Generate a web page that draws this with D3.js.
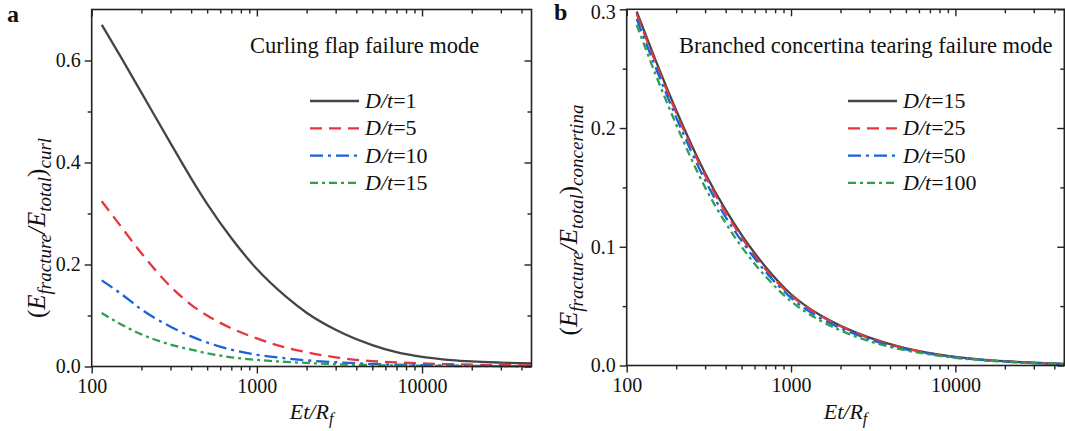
<!DOCTYPE html>
<html>
<head>
<meta charset="utf-8">
<script src="https://cdnjs.cloudflare.com/ajax/libs/d3/7.8.5/d3.min.js"></script>
<style>
  body { margin: 0; background: #fff; }
  svg text { font-family: "Liberation Serif", "Times New Roman", serif; fill: #111; }
</style>
</head>
<body>
<script>

// x values (Et/Rf) where the curves were read
var xVals = [115, 150, 200, 300, 400, 500, 700, 1000, 1500, 2000, 3000, 5000, 7000, 10000, 15000, 20000, 30000, 46000];

// panel a - curling flap
var curlD1  = [0.670, 0.607, 0.537, 0.438, 0.369, 0.319, 0.252, 0.191, 0.137, 0.1055, 0.072, 0.042, 0.028, 0.0188, 0.0126, 0.0099, 0.0076, 0.0059];
var curlD5  = [0.324, 0.275, 0.222, 0.157, 0.121, 0.100, 0.075, 0.055, 0.037, 0.028, 0.018, 0.0105, 0.008, 0.006, 0.0045, 0.0036, 0.0027, 0.002];
var curlD10 = [0.169, 0.143, 0.112, 0.078, 0.059, 0.047, 0.033, 0.023, 0.016, 0.012, 0.0085, 0.005, 0.0036, 0.0026, 0.0018, 0.0014, 0.001, 0.0008];
var curlD15 = [0.105, 0.083, 0.063, 0.043, 0.033, 0.026, 0.018, 0.013, 0.009, 0.007, 0.0045, 0.0027, 0.002, 0.0014, 0.001, 0.0008, 0.0006, 0.0005];

// panel b - branched concertina tearing
var concD15  = [0.298, 0.257, 0.215, 0.162, 0.131, 0.110, 0.083, 0.060, 0.0425, 0.0335, 0.0235, 0.0145, 0.0105, 0.0073, 0.0048, 0.0036, 0.0023, 0.0013];
var concD25  = [0.296, 0.255, 0.213, 0.160, 0.129, 0.108, 0.081, 0.059, 0.042, 0.033, 0.023, 0.0142, 0.0103, 0.0071, 0.0047, 0.0035, 0.0022, 0.0013];
var concD50  = [0.292, 0.251, 0.209, 0.156, 0.125, 0.105, 0.079, 0.057, 0.040, 0.0315, 0.022, 0.0136, 0.0099, 0.0068, 0.0045, 0.0034, 0.0021, 0.0012];
var concD100 = [0.287, 0.245, 0.203, 0.150, 0.120, 0.100, 0.075, 0.054, 0.038, 0.0295, 0.0205, 0.0127, 0.0093, 0.0064, 0.0043, 0.0032, 0.0020, 0.0011];

var xDomain = [100, 46000];
var xMajor = [100, 1000, 10000];
var xMinor = [200, 300, 400, 500, 600, 700, 800, 900, 2000, 3000, 4000, 5000, 6000, 7000, 8000, 9000, 20000, 30000, 40000];

var yTicksA = [0, 0.2, 0.4, 0.6];
var yMinorA = [0.1, 0.3, 0.5];
var yTicksB = [0, 0.1, 0.2, 0.3];
var yMinorB = [0.05, 0.15, 0.25];

var labelsA = ["1", "5", "10", "15"];
var labelsB = ["15", "25", "50", "100"];

var colors = ["#454545", "#e8363c", "#1a62d8", "#2e9e52"];
var dashes = [null, "12,7", "13,5,3,5", "8,4,3,4"];

var svg = d3.select("body").append("svg")
    .attr("width", 1065)
    .attr("height", 431);

function drawPanel(opt) {
    var x = d3.scaleLog().domain(xDomain).range([opt.left, opt.right]);
    var y = d3.scaleLinear().domain(opt.yDomain).range([opt.bottom, opt.top]);
    var g = svg.append("g");

    // curves
    var line = d3.line()
        .x(function(d) { return x(d[0]); })
        .y(function(d) { return y(d[1]); })
        .curve(d3.curveMonotoneX);

    opt.series.forEach(function(s, i) {
        var pts = xVals.map(function(v, k) { return [v, s[k]]; });
        g.append("path")
            .attr("d", line(pts))
            .attr("fill", "none")
            .attr("stroke", colors[i])
            .attr("stroke-width", 2.3)
            .attr("stroke-dasharray", dashes[i]);
    });

    // bottom axis, ticks outward
    g.append("g").attr("transform", "translate(0," + opt.bottom + ")")
        .call(d3.axisBottom(x).tickValues(xMajor).tickFormat(d3.format("d")).tickSize(7).tickSizeOuter(0).tickPadding(5));
    g.append("g").attr("transform", "translate(0," + opt.bottom + ")")
        .call(d3.axisBottom(x).tickValues(xMinor).tickFormat("").tickSize(4).tickSizeOuter(0));

    // top axis, ticks inward
    g.append("g").attr("transform", "translate(0," + opt.top + ")")
        .call(d3.axisBottom(x).tickValues(xMajor).tickFormat("").tickSize(7).tickSizeOuter(0));
    g.append("g").attr("transform", "translate(0," + opt.top + ")")
        .call(d3.axisBottom(x).tickValues(xMinor).tickFormat("").tickSize(4).tickSizeOuter(0));

    // left axis, ticks outward
    var left = g.append("g").attr("transform", "translate(" + opt.left + ",0)")
        .call(d3.axisLeft(y).tickValues(opt.yTicks).tickFormat(d3.format(".1f")).tickSize(7).tickSizeOuter(0).tickPadding(4));
    g.append("g").attr("transform", "translate(" + opt.left + ",0)")
        .call(d3.axisLeft(y).tickValues(opt.yMinor).tickFormat("").tickSize(4).tickSizeOuter(0));

    // right axis, ticks inward
    g.append("g").attr("transform", "translate(" + opt.right + ",0)")
        .call(d3.axisLeft(y).tickValues(opt.yTicks).tickFormat("").tickSize(7).tickSizeOuter(0));
    g.append("g").attr("transform", "translate(" + opt.right + ",0)")
        .call(d3.axisLeft(y).tickValues(opt.yMinor).tickFormat("").tickSize(4).tickSizeOuter(0));

    g.selectAll(".domain").remove();
    g.selectAll(".tick line").attr("stroke", "#222").attr("stroke-width", 1.4);
    g.selectAll(".tick text").attr("font-size", 20).attr("fill", "#111")
        .attr("font-family", "Liberation Serif");
    // keep the top label inside the picture
    left.selectAll(".tick text").filter(function(d) { return y(d) < 15; }).attr("dy", "0.48em");

    // frame
    g.append("rect")
        .attr("x", opt.left).attr("y", opt.top)
        .attr("width", opt.right - opt.left).attr("height", opt.bottom - opt.top)
        .attr("fill", "none").attr("stroke", "#222").attr("stroke-width", 1.6);

    // panel letter
    g.append("text").attr("x", opt.letterX).attr("y", opt.letterY)
        .attr("font-size", 24).attr("font-weight", "bold").text(opt.letter);

    // mode title
    g.append("text").attr("x", opt.titleX).attr("y", 53)
        .attr("font-size", 22.5).text(opt.title);

    // legend
    opt.legend.forEach(function(lab, i) {
        var ly = 101 + i * 27.3;
        g.append("line")
            .attr("x1", opt.legX).attr("x2", opt.legX + 49)
            .attr("y1", ly).attr("y2", ly)
            .attr("stroke", colors[i]).attr("stroke-width", 2.3)
            .attr("stroke-dasharray", dashes[i]);
        var t = g.append("text").attr("x", opt.legX + 55).attr("y", ly + 7).attr("font-size", 22);
        t.append("tspan").attr("font-style", "italic").text("D/t");
        t.append("tspan").text("=" + lab);
    });

    // x axis title
    var xt = g.append("text").attr("x", (opt.left + opt.right) / 2).attr("y", 419)
        .attr("text-anchor", "middle").attr("font-size", 22).attr("font-style", "italic");
    xt.append("tspan").text("Et/R");
    xt.append("tspan").attr("font-size", 16).attr("dy", 5).text("f");

    // y axis title
    var yt = g.append("text")
        .attr("transform", "translate(" + opt.yTitleX + "," + opt.yTitleY + ") rotate(-90)")
        .attr("text-anchor", "middle").attr("font-size", 25);
    yt.append("tspan").text("(");
    yt.append("tspan").attr("font-style", "italic").text("E");
    yt.append("tspan").attr("font-style", "italic").attr("font-size", 19).attr("dy", 6).text("fracture");
    yt.append("tspan").attr("font-style", "italic").attr("dy", -6).text("/E");
    yt.append("tspan").attr("font-style", "italic").attr("font-size", 19).attr("dy", 6).text("total");
    yt.append("tspan").attr("dy", -6).text(")");
    yt.append("tspan").attr("font-style", "italic").attr("font-size", 19).attr("dy", 6).text(opt.ySub);
}

drawPanel({
    left: 91.7, right: 531.5, top: 9.5, bottom: 366.5,
    yDomain: [0, 0.7], yTicks: yTicksA, yMinor: yMinorA,
    series: [curlD1, curlD5, curlD10, curlD15],
    legend: labelsA, legX: 310,
    letter: "a", letterX: 7, letterY: 22,
    title: "Curling flap failure mode", titleX: 250,
    yTitleX: 45, yTitleY: 228, ySub: "curl"
});

drawPanel({
    left: 626.7, right: 1064.3, top: 9.3, bottom: 365.5,
    yDomain: [0, 0.3], yTicks: yTicksB, yMinor: yMinorB,
    series: [concD15, concD25, concD50, concD100],
    legend: labelsB, legX: 848,
    letter: "b", letterX: 554, letterY: 20,
    title: "Branched concertina tearing failure mode", titleX: 679,
    yTitleX: 577, yTitleY: 220, ySub: "concertina"
});

</script>
</body>
</html>
